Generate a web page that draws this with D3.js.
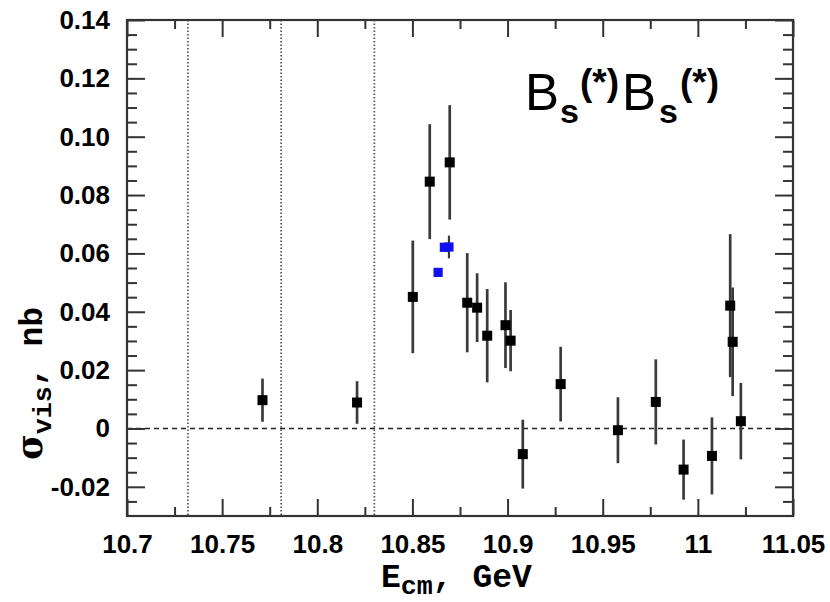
<!DOCTYPE html>
<html>
<head>
<meta charset="utf-8">
<script src="https://cdn.jsdelivr.net/npm/d3@7"></script>
<style>
  html, body { margin: 0; padding: 0; background: #fff; }
  svg { display: block; }
  .tick text { font-family: "Liberation Sans", Arial, sans-serif; font-weight: bold; font-size: 26px; fill: #000; }
</style>
</head>
<body>
<svg id="chart" width="830" height="602"></svg>
<script>
// Visible cross section of B_s(*) B_s(*) versus centre-of-mass energy
const energy   = [10.7712, 10.8209, 10.8502, 10.8591, 10.8696, 10.8788, 10.8840, 10.8893, 10.8989, 10.9016,
                  10.9080, 10.9279, 10.9580, 10.9779, 10.9925, 11.0074, 11.0170, 11.0183, 11.0226];
const sigma    = [0.0097, 0.0089, 0.0451, 0.0846, 0.0912, 0.0431, 0.0414, 0.0318, 0.0354, 0.0301,
                  -0.0088, 0.0152, -0.0006, 0.0091, -0.0141, -0.0094, 0.0421, 0.0297, 0.0025];
const sigmaErr = [0.0074, 0.0073, 0.0193, 0.0197, 0.0196, 0.0170, 0.0118, 0.0160, 0.0147, 0.0105,
                  0.0118, 0.0128, 0.0113, 0.0146, 0.0103, 0.0132, 0.0245, 0.0186, 0.0131];

// High-statistics scan points
const energyScan   = [10.8635, 10.8668, 10.8692];
const sigmaScan    = [0.0535, 0.0621, 0.0622];
const sigmaScanErr = [0.0010, 0.0012, 0.0039];

// Thresholds (dotted verticals)
const thresholds = [10.732, 10.781, 10.830];

const xMajor = [10.7, 10.75, 10.8, 10.85, 10.9, 10.95, 11, 11.05];
const xMinor = [10.725, 10.775, 10.825, 10.875, 10.925, 10.975, 11.025];
const yMajor = [-0.02, 0, 0.02, 0.04, 0.06, 0.08, 0.10, 0.12, 0.14];
const yLabels = ["-0.02", "0", "0.02", "0.04", "0.06", "0.08", "0.10", "0.12", "0.14"];
const yMinor = d3.range(-0.025, 0.1401, 0.005).filter(v => !yMajor.some(m => Math.abs(m - v) < 1e-6));

const plotL = 127, plotR = 793, plotT = 20, plotB = 516;
const x = d3.scaleLinear().domain([10.7, 11.05]).range([plotL, plotR]);
const y = d3.scaleLinear().domain([-0.03, 0.14]).range([plotB, plotT]);

const svg = d3.select("#chart");
const axisColor = "#333";

// threshold lines
svg.append("g").selectAll("line").data(thresholds).join("line")
  .attr("x1", d => x(d)).attr("x2", d => x(d))
  .attr("y1", plotT).attr("y2", plotB)
  .attr("stroke", "#555").attr("stroke-width", 1.7)
  .attr("stroke-dasharray", "1.5,2");

// zero line
svg.append("line")
  .attr("x1", plotL).attr("x2", plotR)
  .attr("y1", y(0)).attr("y2", y(0))
  .attr("stroke", "#222").attr("stroke-width", 1.6)
  .attr("stroke-dasharray", "5,4");

function styleAxis(g) {
  g.select(".domain").remove();
  g.selectAll(".tick line").attr("stroke", axisColor).attr("stroke-width", 2);
}

// bottom axis
svg.append("g").attr("transform", `translate(0,${plotB})`)
  .call(d3.axisBottom(x).tickValues(xMajor).tickSize(-17).tickPadding(19)
        .tickFormat(d => d3.format("~g")(d)))
  .call(styleAxis);
svg.append("g").attr("transform", `translate(0,${plotB})`)
  .call(d3.axisBottom(x).tickValues(xMinor).tickSize(-9).tickFormat(""))
  .call(styleAxis);
// top axis
svg.append("g").attr("transform", `translate(0,${plotT})`)
  .call(d3.axisTop(x).tickValues(xMajor).tickSize(-17).tickFormat(""))
  .call(styleAxis);
svg.append("g").attr("transform", `translate(0,${plotT})`)
  .call(d3.axisTop(x).tickValues(xMinor).tickSize(-9).tickFormat(""))
  .call(styleAxis);
// left axis
svg.append("g").attr("transform", `translate(${plotL},0)`)
  .call(d3.axisLeft(y).tickValues(yMajor).tickSize(-18).tickPadding(17)
        .tickFormat((d, i) => yLabels[i]))
  .call(styleAxis);
svg.append("g").attr("transform", `translate(${plotL},0)`)
  .call(d3.axisLeft(y).tickValues(yMinor).tickSize(-10).tickFormat(""))
  .call(styleAxis);
// right axis
svg.append("g").attr("transform", `translate(${plotR},0)`)
  .call(d3.axisRight(y).tickValues(yMajor).tickSize(-18).tickFormat(""))
  .call(styleAxis);
svg.append("g").attr("transform", `translate(${plotR},0)`)
  .call(d3.axisRight(y).tickValues(yMinor).tickSize(-10).tickFormat(""))
  .call(styleAxis);

// frame
svg.append("rect")
  .attr("x", plotL).attr("y", plotT)
  .attr("width", plotR - plotL).attr("height", plotB - plotT)
  .attr("fill", "none").attr("stroke", axisColor).attr("stroke-width", 2.2);

// error bars and markers
const pts = energy.map((e, i) => ({ e, s: sigma[i], err: sigmaErr[i] }));
const scanPts = energyScan.map((e, i) => ({ e, s: sigmaScan[i], err: sigmaScanErr[i] }));
const sq = 10;

svg.append("g").selectAll("line").data(pts).join("line")
  .attr("x1", d => x(d.e)).attr("x2", d => x(d.e))
  .attr("y1", d => y(d.s - d.err)).attr("y2", d => y(d.s + d.err))
  .attr("stroke", "#3a3a3a").attr("stroke-width", 2.7);
svg.append("g").selectAll("line").data(scanPts).join("line")
  .attr("x1", d => x(d.e)).attr("x2", d => x(d.e))
  .attr("y1", d => y(d.s - d.err)).attr("y2", d => y(d.s + d.err))
  .attr("stroke", "#3a3a3a").attr("stroke-width", 2.2);

svg.append("g").selectAll("rect").data(pts).join("rect")
  .attr("x", d => x(d.e) - sq / 2).attr("y", d => y(d.s) - sq / 2)
  .attr("width", sq).attr("height", sq).attr("fill", "#000");
svg.append("g").selectAll("rect").data(scanPts).join("rect")
  .attr("x", d => x(d.e) - 4.6).attr("y", d => y(d.s) - 4.6)
  .attr("width", 9.2).attr("height", 9.2).attr("fill", "#1010f0");

// axis titles
const mono = "'Liberation Mono', 'Courier New', monospace";
const xt = svg.append("text").attr("x", 381).attr("y", 587)
  .attr("font-family", mono).attr("font-weight", "bold").attr("font-size", 33).attr("fill", "#000");
xt.append("tspan").text("E");
xt.append("tspan").attr("font-size", 26.7).attr("dy", 7).text("cm");
xt.append("tspan").attr("dy", -7).text(", GeV");

const yt = svg.append("text")
  .attr("transform", "translate(42,460) rotate(-90)")
  .attr("font-family", mono).attr("font-weight", "bold").attr("font-size", 33).attr("fill", "#000");
yt.append("tspan").attr("font-family", "'DejaVu Serif', serif").attr("font-weight", "bold")
  .attr("font-size", 35).text("σ");
yt.append("tspan").attr("font-size", 26.7).attr("dy", 9).text("vis");
yt.append("tspan").attr("dy", -9).text(", nb");

// process label B_s(*) B_s(*)
const lab = svg.append("g")
  .attr("font-family", "'Liberation Sans', Arial, sans-serif").attr("fill", "#000");
const labParts = [
  { t: "B",   x: 525, y: 110, size: 51, w: "normal" },
  { t: "s",   x: 560, y: 123, size: 34, w: "bold" },
  { t: "(*)", x: 580, y: 95,  size: 37, w: "bold" },
  { t: "B",   x: 622, y: 110, size: 51, w: "normal" },
  { t: "s",   x: 659, y: 123, size: 34, w: "bold" },
  { t: "(*)", x: 680, y: 95,  size: 37, w: "bold" }
];
lab.selectAll("text").data(labParts).join("text")
  .attr("x", d => d.x).attr("y", d => d.y)
  .attr("font-size", d => d.size).attr("font-weight", d => d.w)
  .text(d => d.t);
</script>
</body>
</html>
